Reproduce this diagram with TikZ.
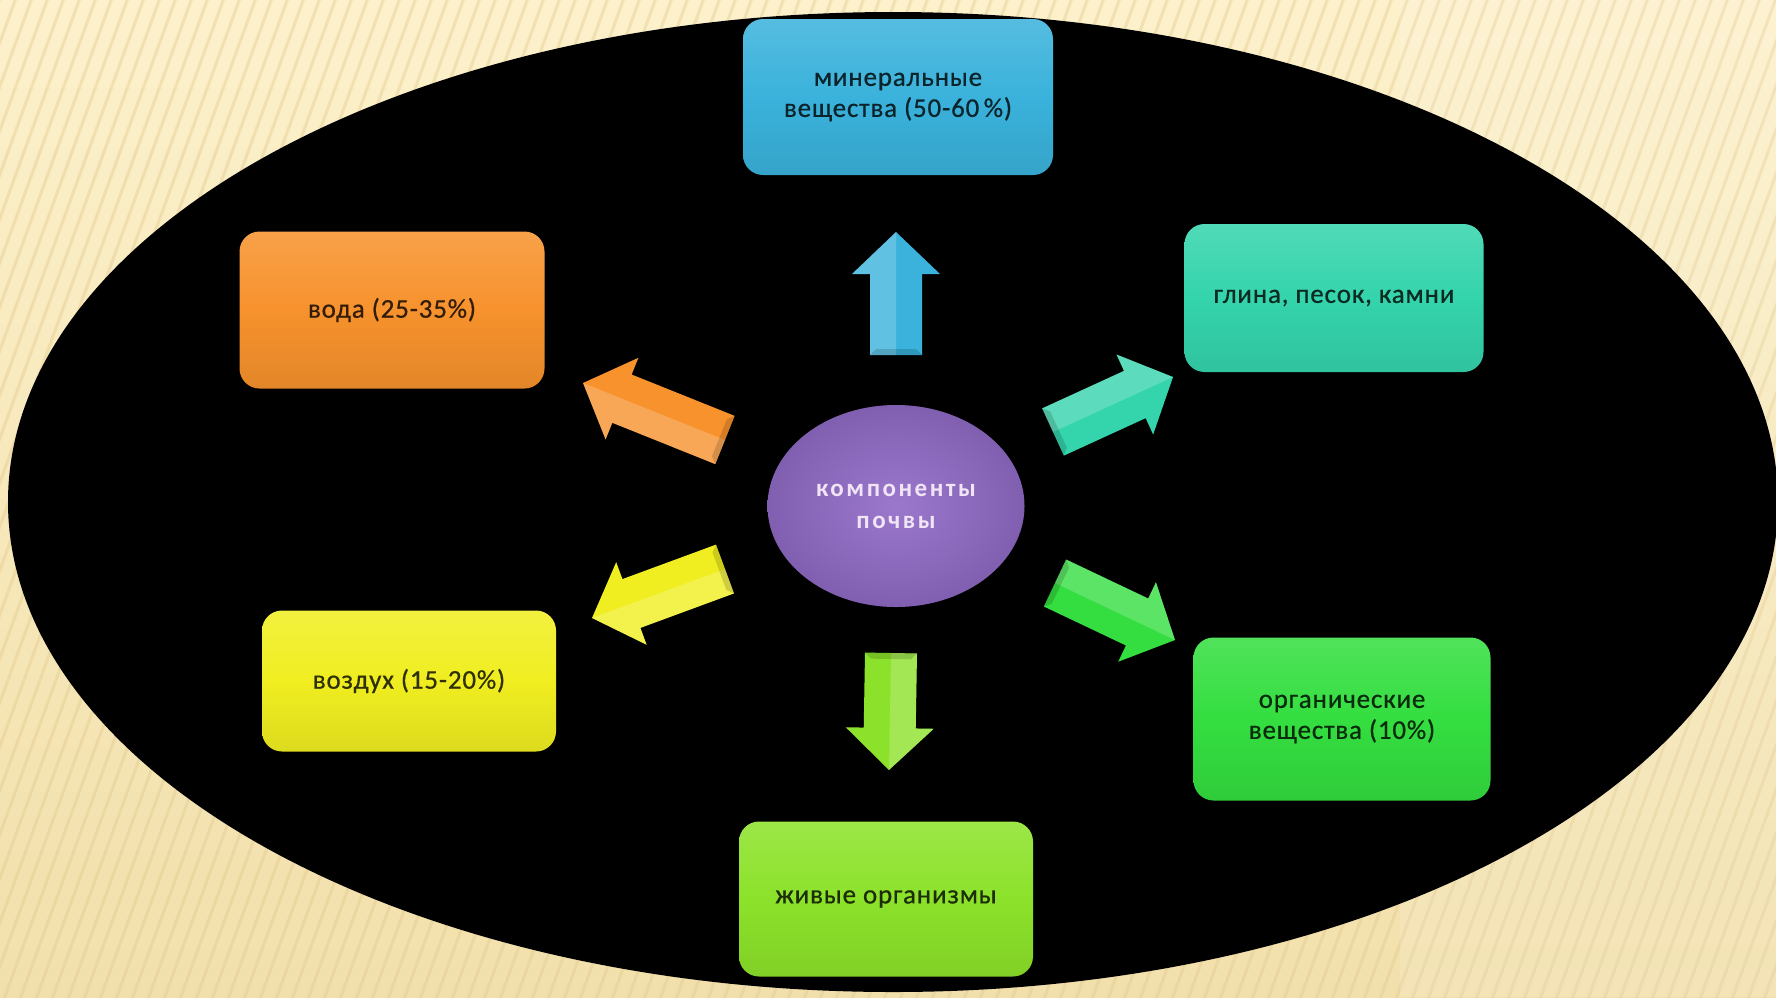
\documentclass[tikz,border=0pt]{standalone}
\usepackage{fontspec}
\setmainfont{Carlito}
\newfontfamily\boxfont[LetterSpace=3,FakeBold=0.6]{Carlito}
\newfontfamily\centerfont[LetterSpace=10]{Carlito}
\usetikzlibrary{calc,shapes.geometric}
\definecolor{bgtop}{RGB}{252,241,203}
\definecolor{bgbot}{RGB}{242,224,172}
\definecolor{stripecol}{RGB}{226,200,140}
\definecolor{cmin}{RGB}{58,178,219}
\definecolor{cwater}{RGB}{247,146,45}
\definecolor{cclay}{RGB}{52,212,172}
\definecolor{cair}{RGB}{240,238,32}
\definecolor{corg}{RGB}{52,222,64}
\definecolor{clive}{RGB}{140,226,42}
\definecolor{cpurple}{RGB}{146,108,200}
\definecolor{ctext}{RGB}{240,228,246}
\tikzset{
  compbox/.style={rounded corners=20pt, align=center, inner sep=6pt,
    top color=#1!86!white, bottom color=#1!92!black, middle color=#1,
    text=#1!20!black, font=\boxfont\fontsize{27}{31}\selectfont},
}
\newcommand\fatarrow[3]{%
  \coordinate (H) at ($(#2)!42pt!(#1)$);
  \fill[#3] ($(#1)!26pt!90:(#2)$) -- ($(H)!26pt!90:(#2)$) -- ($(H)!44pt!90:(#2)$)
    -- (#2) -- ($(H)!44pt!-90:(#2)$) -- ($(H)!26pt!-90:(#2)$) -- ($(#1)!26pt!-90:(#2)$) -- cycle;
  \fill[white, opacity=0.2] ($(#1)!26pt!90:(#2)$) -- ($(H)!26pt!90:(#2)$) -- ($(H)!44pt!90:(#2)$)
    -- (#2) -- (H) -- (#1) -- cycle;
  \fill[black, opacity=0.15] ($(#1)!26pt!90:(#2)$) -- ($(#1)!26pt!-90:(#2)$)
    -- ($($(#1)!6pt!(#2)$)!20pt!-90:(#2)$) -- ($($(#1)!6pt!(#2)$)!20pt!90:(#2)$) -- cycle;
}
\begin{document}
\begin{tikzpicture}[x=1pt,y=-1pt]
\useasboundingbox (0,0) rectangle (1776,997);
% background
\begin{scope}
  \clip (0,0) rectangle (1776,997);
  \fill[top color=bgtop, bottom color=bgbot] (0,0) rectangle (1776,997);
  \foreach \x in {-400,-384,...,1800} {
    \draw[stripecol, line width=3pt, opacity=0.4] (\x,1010) -- ++(380,-1045);
  }
  \fill[white, opacity=0.12] (1400,0) rectangle (1776,997);
\end{scope}
% black ellipse
\fill[black] (893,502) ellipse [x radius=885pt, y radius=490pt];
% boxes
\node[compbox=cmin, minimum width=310pt, minimum height=156pt] (min) at (898,97)
  {минеральные\\вещества (50-60\,\%)};
\node[compbox=cwater, minimum width=305pt, minimum height=157pt] (water) at (392,310)
  {вода (25-35\%)};
\node[compbox=cclay, minimum width=299pt, minimum height=148pt] (clay) at (1334,298)
  {глина, песок, камни};
\node[compbox=cair, minimum width=294pt, minimum height=141pt] (air) at (409,681)
  {воздух (15-20\%)};
\node[compbox=corg, minimum width=297pt, minimum height=163pt] (org) at (1342,719)
  {органические\\вещества (10\%)};
\node[compbox=clive, minimum width=294pt, minimum height=155pt] (live) at (886,899)
  {живые организмы};
% central ellipse
\node[ellipse, minimum width=257pt, minimum height=202pt, inner sep=0pt,
  inner color=cpurple!92!white, outer color=cpurple!88!black,
  text=ctext, align=center, font=\centerfont\bfseries\fontsize{25}{32}\selectfont] (center) at (896,506)
  {компоненты\\почвы};
% arrows
\coordinate (upA) at (896,355);   \coordinate (upB) at (896,232);
\coordinate (dnA) at (891,653);   \coordinate (dnB) at (889,770);
\coordinate (orA) at (725,440);   \coordinate (orB) at (583,383);
\coordinate (tlA) at (1053,432);  \coordinate (tlB) at (1173,377);
\coordinate (yeA) at (725,569);   \coordinate (yeB) at (592,618);
\coordinate (grA) at (1055,583);  \coordinate (grB) at (1175,640);
\fatarrow{upA}{upB}{cmin}
\fatarrow{dnA}{dnB}{clive}
\fatarrow{orA}{orB}{cwater}
\fatarrow{tlA}{tlB}{cclay}
\fatarrow{yeA}{yeB}{cair}
\fatarrow{grA}{grB}{corg}
\end{tikzpicture}
\end{document}
